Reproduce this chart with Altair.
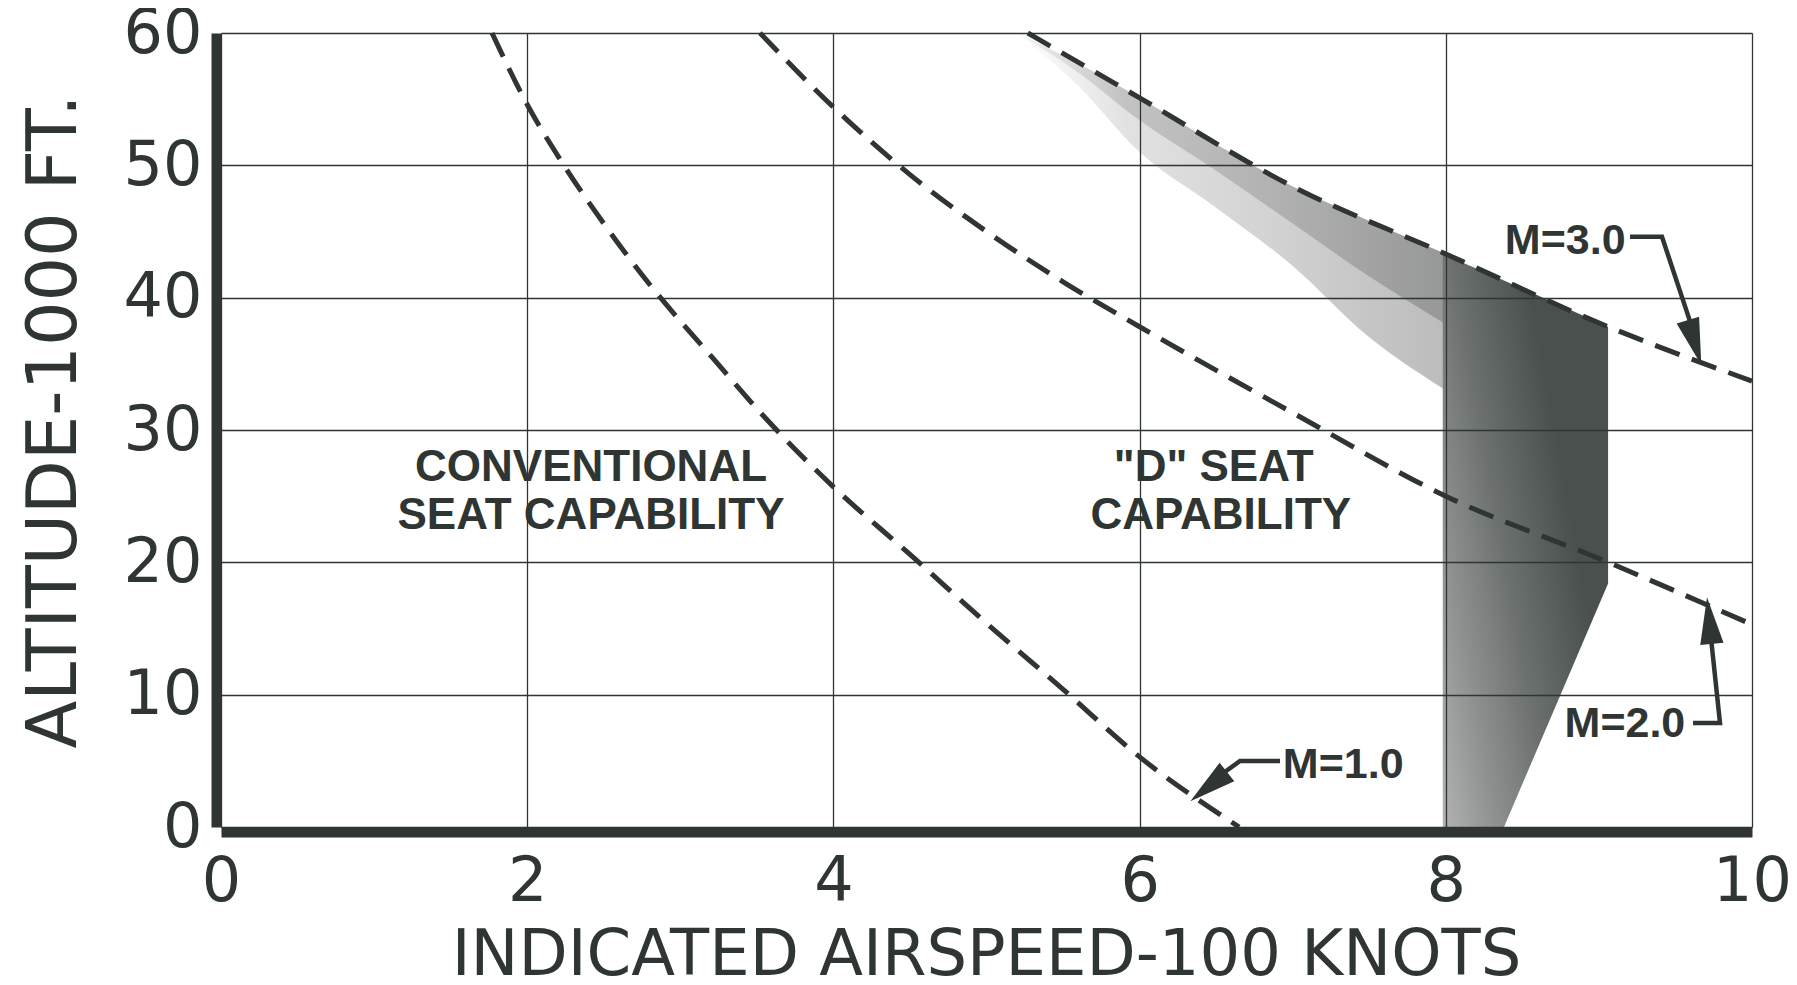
import altair as alt
import pandas as pd

INK = "#2e3533"

# Mach-number curves: x = indicated airspeed (100 knots), y = altitude (1000 ft)
m1_x = [1.77, 2.0, 2.24, 2.5, 2.8, 3.2, 3.58, 4.0, 4.5, 5.0, 5.5, 6.0, 6.65]
m1_y = [60.0, 54.6, 50.0, 45.6, 41.0, 35.6, 30.6, 25.7, 20.6, 15.4, 10.4, 5.3, 0.0]

m2_x = [3.52, 4.0, 4.5, 5.0, 5.5, 6.0, 7.0, 8.0, 9.04, 10.0]
m2_y = [60.0, 54.4, 49.3, 45.0, 41.2, 37.8, 31.3, 25.0, 20.1, 15.3]

m3_x = [5.27, 6.0, 7.0, 8.0, 9.04, 10.0]
m3_y = [60.0, 55.1, 48.4, 43.3, 37.9, 33.7]

# shaded "D" seat capability region: fading band under M=3.0 and the dark core
band_x = [5.2, 5.6, 6.0, 6.5, 7.0, 7.5, 8.0]
band_top = [60.0, 57.7, 55.1, 51.6, 48.4, 45.8, 43.3]
band_outer_bottom = [60.0, 56.0, 51.0, 46.8, 42.4, 37.0, 33.0]
band_inner_bottom = [60.0, 57.0, 53.4, 49.6, 45.6, 41.6, 38.0]

core_x = [7.98, 8.38, 9.06]
core_top = [43.3, 41.3, 37.8]
core_bottom = [0.0, 0.0, 18.4]

# region labels
region_text = ["CONVENTIONAL", "SEAT CAPABILITY", "\"D\" SEAT", "CAPABILITY"]
region_x = [2.417, 2.417, 6.484, 6.53]
region_y = [27.15, 23.5, 27.15, 23.5]

# Mach labels and leader arrows
mach_text = ["M=1.0", "M=3.0", "M=2.0"]
mach_x = [7.33, 8.78, 9.17]
mach_y = [4.65, 44.28, 7.82]

leader_id = ["m1", "m1", "m1", "m3", "m3", "m3", "m2", "m2", "m2"]
leader_x = [6.917, 6.656, 6.43, 9.203, 9.412, 9.63, 9.615, 9.791, 9.72]
leader_y = [4.99, 4.99, 3.1, 44.6, 44.6, 37.0, 7.86, 7.86, 15.6]

head_x = [6.451, 9.625, 9.722]
head_y = [3.05, 36.6, 15.6]
head_angle = [231.3, 163.3, 354.0]

x_ticks = [0, 2, 4, 6, 8, 10]
y_ticks = [0, 10, 20, 30, 40, 50, 60]
x_title = "INDICATED AIRSPEED-100 KNOTS"
y_title = "ALTITUDE-1000 FT."

# ---- tables ----
rows = []
for name, xs, ys in [("M=1.0", m1_x, m1_y), ("M=2.0", m2_x, m2_y), ("M=3.0", m3_x, m3_y)]:
    for i, (a, b) in enumerate(zip(xs, ys)):
        rows.append({"curve": name, "order": i, "x": a, "y": b})
curves = pd.DataFrame(rows)
band_outer = pd.DataFrame({"x": band_x, "y": band_top, "y2": band_outer_bottom})
band_inner = pd.DataFrame({"x": band_x, "y": band_top, "y2": band_inner_bottom})
core = pd.DataFrame({"x": core_x, "y": core_top, "y2": core_bottom})
regions = pd.DataFrame({"text": region_text, "x": region_x, "y": region_y})
machs = pd.DataFrame({"text": mach_text, "x": mach_x, "y": mach_y})
leaders = pd.DataFrame({"id": leader_id, "order": list(range(len(leader_id))),
                        "x": leader_x, "y": leader_y})
heads = pd.DataFrame({"x": head_x, "y": head_y, "angle": head_angle})

xscale = alt.Scale(domain=[0, 10], nice=False, zero=False)
yscale = alt.Scale(domain=[0, 60], nice=False, zero=False)

xaxis = alt.Axis(
    values=x_ticks, grid=True, ticks=False, tickSize=0, zindex=1,
    domainWidth=10, domainColor=INK, offset=5,
    gridColor=INK, gridWidth=1.3, gridOpacity=1,
    labelFont="DejaVu Sans", labelFontSize=62, labelColor=INK,
    labelBaseline="alphabetic", labelPadding=68, labelFlush=False, labelOverlap=False,
    title=x_title, titleFont="DejaVu Sans", titleFontSize=64, titleFontWeight="normal",
    titleColor=INK, titleX=765, titleY=142, titleBaseline="alphabetic", titleAlign="center",
)
yaxis = alt.Axis(
    values=y_ticks, grid=True, ticks=False, tickSize=0, zindex=1,
    domainWidth=10, domainColor=INK, offset=5,
    gridColor=INK, gridWidth=1.3, gridOpacity=1,
    labelFont="DejaVu Sans", labelFontSize=62, labelColor=INK,
    labelAlign="right", labelBaseline="middle", labelPadding=14, labelFlush=False,
    labelOverlap=False,
    title=y_title, titleFont="DejaVu Sans", titleFontSize=70, titleFontWeight="normal",
    titleColor=INK, titleAngle=270, titleX=-141, titleY=388,
    titleBaseline="alphabetic", titleAlign="center",
)

X = alt.X("x:Q", scale=xscale, axis=xaxis)
Y = alt.Y("y:Q", scale=yscale, axis=yaxis)


def grad(stops, x1=0, y1=0, x2=1, y2=0):
    return alt.Gradient(gradient="linear", x1=x1, x2=x2, y1=y1, y2=y2,
                        stops=[alt.GradientStop(offset=o, color=c) for o, c in stops])


outer = alt.Chart(band_outer).mark_area(
    color=grad([(0.0, "#ffffff"), (0.25, "#e2e2e2"), (0.6, "#d2d2d2"), (1.0, "#bcbcbc")]),
    interpolate="monotone",
).encode(x=X, y=Y, y2="y2:Q")

inner = alt.Chart(band_inner).mark_area(
    color=grad([(0.0, "#f0f0f0"), (0.25, "#bdbdbd"), (0.6, "#acacac"), (1.0, "#8f9190")]),
    interpolate="monotone", opacity=0.85,
).encode(x=X, y=Y, y2="y2:Q")

dark = alt.Chart(core).mark_area(
    color=grad([(0.0, "#b2b2b2"), (0.3, "#8d908f"), (0.6, "#6c716f"), (1.0, "#4a504e")],
               x1=0, y1=1, x2=0.8, y2=0.5),
    interpolate="linear",
).encode(x=X, y=Y, y2="y2:Q")

lines = alt.Chart(curves).mark_line(
    strokeDash=[26, 13], strokeWidth=5, color=INK, interpolate="monotone"
).encode(x=X, y=Y, detail="curve:N", order="order:Q")

lead = alt.Chart(leaders).mark_line(strokeWidth=4.5, color=INK).encode(
    x=X, y=Y, detail="id:N", order="order:Q")

head = alt.Chart(heads).mark_point(
    shape="M-0.5,1L0,-1L0.5,1Z", filled=True, size=2200, color=INK, opacity=1
).encode(x=X, y=Y, angle=alt.Angle("angle:Q", scale=None))

reg = alt.Chart(regions).mark_text(
    font="Liberation Sans", fontSize=44, fontWeight="bold", color=INK,
    align="center", baseline="middle"
).encode(x=X, y=Y, text="text:N")

mach = alt.Chart(machs).mark_text(
    font="Liberation Sans", fontSize=43, fontWeight="bold", color=INK,
    align="center", baseline="middle"
).encode(x=X, y=Y, text="text:N")

chart = alt.layer(outer, inner, dark, lines, lead, head, reg, mach).properties(
    width=1531, height=794,
    autosize=alt.AutoSizeParams(type="none"),
    padding={"left": 213, "top": 25, "right": 37, "bottom": 150},
    background="white",
).configure_view(strokeWidth=0)

chart.save("out.html", embed_options={"renderer": "svg", "actions": False})
